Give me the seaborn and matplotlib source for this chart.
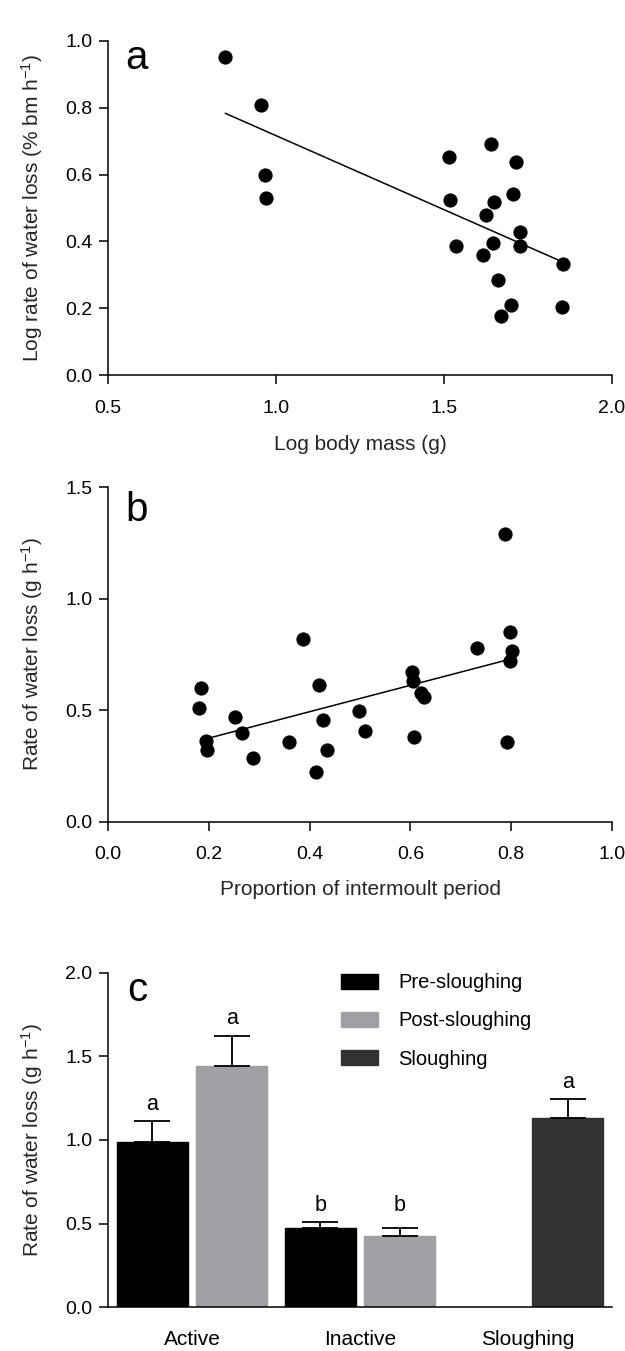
import numpy as np
import pandas as pd
import matplotlib
matplotlib.use("Agg")
import matplotlib.pyplot as plt
import seaborn as sns
from matplotlib.patches import Patch
from matplotlib.ticker import FormatStrFormatter, FixedLocator

# ---------------- data: panel a ----------------
log_mass = [0.849, 0.956, 0.967, 0.970, 1.515, 1.518, 1.536, 1.639, 1.714, 1.706, 1.649,
            1.626, 1.727, 1.646, 1.725, 1.615, 1.855, 1.662, 1.700, 1.852, 1.669]
log_wl = [0.950, 0.809, 0.598, 0.531, 0.653, 0.525, 0.385, 0.692, 0.638, 0.543, 0.519,
          0.479, 0.427, 0.395, 0.387, 0.361, 0.332, 0.284, 0.209, 0.205, 0.177]
fit_a_x = [0.849, 1.839]
fit_a_y = [0.783, 0.345]

# ---------------- data: panel b ----------------
prop_intermoult = [0.788, 0.797, 0.802, 0.797, 0.732, 0.792, 0.386, 0.184, 0.180, 0.252, 0.194,
                   0.196, 0.266, 0.287, 0.360, 0.419, 0.426, 0.434, 0.413, 0.499, 0.510, 0.603,
                   0.605, 0.607, 0.621, 0.627]
rate_wl = [1.289, 0.851, 0.763, 0.718, 0.778, 0.359, 0.819, 0.599, 0.509, 0.468, 0.360,
           0.320, 0.398, 0.286, 0.359, 0.612, 0.457, 0.320, 0.222, 0.498, 0.405, 0.670,
           0.629, 0.380, 0.578, 0.559]
fit_b_x = [0.194, 0.797]
fit_b_y = [0.371, 0.728]

# ---------------- data: panel c ----------------
activity = ["Active", "Active", "Inactive", "Inactive", "Sloughing"]
slot = ["first", "second", "first", "second", "second"]
phase = ["Pre-sloughing", "Post-sloughing", "Pre-sloughing", "Post-sloughing", "Sloughing"]
mean_rate = [0.985, 1.443, 0.472, 0.424, 1.134]
sem_rate = [0.129, 0.181, 0.039, 0.050, 0.108]
sig_letters = ["a", "a", "b", "b", "a"]
phase_order = ["Pre-sloughing", "Post-sloughing", "Sloughing"]
phase_colors = {"Pre-sloughing": "#000000", "Post-sloughing": "#a0a0a4", "Sloughing": "#333333"}

# ---------------- style ----------------
sns.set_theme(style="ticks")
plt.rcParams["font.family"] = ["Liberation Sans", "DejaVu Sans"]
plt.rcParams["mathtext.fontset"] = "custom"
plt.rcParams["mathtext.rm"] = "Liberation Sans"
plt.rcParams["mathtext.default"] = "regular"
plt.rcParams["axes.linewidth"] = 1.1
plt.rcParams["axes.edgecolor"] = "black"
plt.rcParams["text.color"] = "black"

TFS = 14      # tick labels
LFS = 15      # axis labels
GFS = 14.5    # legend

fig = plt.figure(figsize=(6.25, 13.51), dpi=100)
L, W, H = 0.1728, 0.8064, 0.2477
ax_a = fig.add_axes([L, 0.7222, W, H])
ax_b = fig.add_axes([L, 0.3918, W, H])
ax_c = fig.add_axes([L, 0.03235, W, H])


def style_axis(ax, xpad=11):
    sns.despine(ax=ax)
    ax.tick_params(axis="both", which="major", direction="out", length=6.8, width=1.1,
                   color="black", labelsize=TFS, labelcolor="black")
    ax.tick_params(axis="y", pad=4.5)
    ax.tick_params(axis="x", pad=xpad)
    ax.yaxis.set_major_formatter(FormatStrFormatter("%.1f"))
    ax.yaxis.set_label_coords(-0.125, 0.5)


# ---------------- panel a ----------------
sns.scatterplot(x=log_mass, y=log_wl, ax=ax_a, color="black", s=105, linewidth=0, clip_on=False)
sns.lineplot(x=fit_a_x, y=fit_a_y, ax=ax_a, color="black", linewidth=1.1)
ax_a.set_xlim(0.5, 2.0)
ax_a.set_ylim(0.0, 1.0)
ax_a.xaxis.set_major_locator(FixedLocator([0.5, 1.0, 1.5, 2.0]))
ax_a.yaxis.set_major_locator(FixedLocator([0.0, 0.2, 0.4, 0.6, 0.8, 1.0]))
ax_a.xaxis.set_major_formatter(FormatStrFormatter("%.1f"))
style_axis(ax_a)
ax_a.set_xlabel("Log body mass (g)", fontsize=LFS, labelpad=13)
ax_a.set_ylabel("Log rate of water loss (% bm h$^{-1}$)", fontsize=LFS)
ax_a.text(0.0575, 0.948, "a", transform=ax_a.transAxes, fontsize=29, ha="center", va="center")

# ---------------- panel b ----------------
sns.scatterplot(x=prop_intermoult, y=rate_wl, ax=ax_b, color="black", s=105, linewidth=0, clip_on=False)
sns.lineplot(x=fit_b_x, y=fit_b_y, ax=ax_b, color="black", linewidth=1.1)
ax_b.set_xlim(0.0, 1.0)
ax_b.set_ylim(0.0, 1.5)
ax_b.xaxis.set_major_locator(FixedLocator([0.0, 0.2, 0.4, 0.6, 0.8, 1.0]))
ax_b.yaxis.set_major_locator(FixedLocator([0.0, 0.5, 1.0, 1.5]))
ax_b.xaxis.set_major_formatter(FormatStrFormatter("%.1f"))
style_axis(ax_b)
ax_b.set_xlabel("Proportion of intermoult period", fontsize=LFS, labelpad=12)
ax_b.set_ylabel("Rate of water loss (g h$^{-1}$)", fontsize=LFS)
ax_b.text(0.0575, 0.930, "b", transform=ax_b.transAxes, fontsize=29, ha="center", va="center")

# ---------------- panel c ----------------
df_c = pd.DataFrame({"activity": activity, "slot": slot, "phase": phase,
                     "mean": mean_rate, "sem": sem_rate, "letter": sig_letters})
sns.barplot(data=df_c, x="activity", y="mean", hue="slot", hue_order=["first", "second"],
            order=["Active", "Inactive", "Sloughing"], ax=ax_c, width=0.95, gap=0.11,
            errorbar=None, legend=False, palette=["black", "black"], saturation=1)

bars = [p for p in ax_c.patches if p.get_height() > 0]
centers = []
for _, row in df_c.iterrows():
    best = min(bars, key=lambda p: abs(p.get_height() - row["mean"]))
    best.set_facecolor(phase_colors[row["phase"]])
    best.set_edgecolor(phase_colors[row["phase"]])
    centers.append(best.get_x() + best.get_width() / 2)
df_c["xc"] = centers
df_c["cap"] = df_c["mean"] + df_c["sem"]

ax_c.errorbar(df_c["xc"], df_c["mean"], yerr=[np.zeros(len(df_c)), df_c["sem"]], fmt="none",
              ecolor="black", elinewidth=1.3, capsize=13, capthick=1.3, zorder=3)

for grp, sub in df_c.groupby("activity"):
    caps = sub["cap"].values
    same_level = len(caps) > 1 and (caps.max() - caps.min()) < 0.1
    for _, row in sub.iterrows():
        base = caps.max() if same_level else row["cap"]
        ax_c.text(row["xc"], base + 0.1, row["letter"], ha="center", va="center", fontsize=15.5)

ax_c.set_xlim(-0.5, 2.5)
ax_c.set_ylim(0.0, 2.0)
ax_c.yaxis.set_major_locator(FixedLocator([0.0, 0.5, 1.0, 1.5, 2.0]))
style_axis(ax_c)
ax_c.tick_params(axis="x", length=0, pad=16, labelsize=LFS)
ax_c.set_xlabel("")
ax_c.set_ylabel("Rate of water loss (g h$^{-1}$)", fontsize=LFS)
ax_c.text(0.0575, 0.947, "c", transform=ax_c.transAxes, fontsize=29, ha="center", va="center")

handles = [Patch(facecolor=phase_colors[p], edgecolor=phase_colors[p], label=p) for p in phase_order]
ax_c.legend(handles=handles, loc="upper left", bbox_to_anchor=(0.462, 0.998), frameon=False,
            fontsize=GFS, handlelength=1.85, handleheight=0.8, handletextpad=1.0,
            labelspacing=0.95, borderpad=0, borderaxespad=0)

fig.savefig("out.png", dpi=100)
